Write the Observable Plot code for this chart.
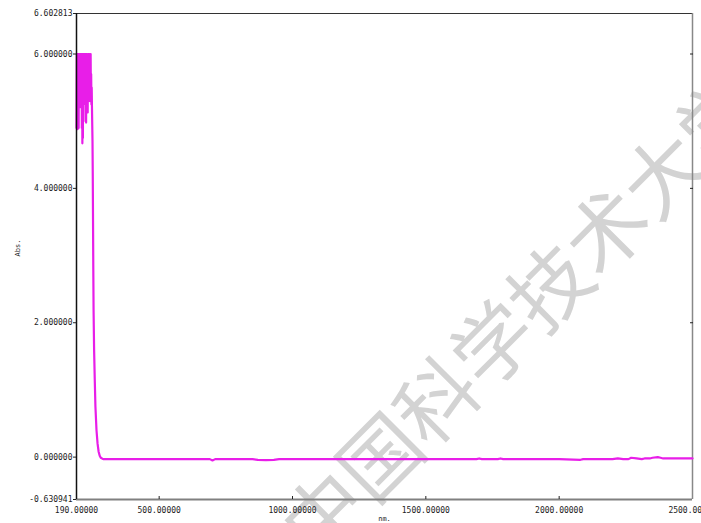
<!DOCTYPE html>
<html>
<head>
<meta charset="utf-8">
<script src="https://cdn.jsdelivr.net/npm/d3@7"></script>
<script src="https://cdn.jsdelivr.net/npm/@observablehq/plot@0.6"></script>
<style>
  html, body { margin: 0; padding: 0; background: #fff; }
  #wrap { position: relative; width: 701px; height: 523px; overflow: hidden; }
  #wm { position: absolute; left: 518px; top: 312px; transform: translate(-50%, -50%) rotate(-45deg);
        font-family: "Noto Sans CJK SC"; font-size: 80px; color: #d3d3d3; white-space: nowrap; z-index: 0; }
  #chart { position: absolute; left: 0; top: 0; z-index: 1; }
</style>
</head>
<body>
<div id="wrap"><div id="wm">中国科学技术大学</div><div id="chart"></div></div>
<script>
const xTicks = [190, 500, 1000, 1500, 2000, 2500];
const xTickLabels = ["190.00000", "500.00000", "1000.00000", "1500.00000", "2000.00000", "2500.00000"];
const yTicks = [-0.630941, 0, 2, 4, 6, 6.602813];
const yTickLabels = ["-0.630941", "0.000000", "2.000000", "4.000000", "6.000000", "6.602813"];
const xLabel = "nm.";
const yLabel = "Abs.";

const wavelength = [
  190,191,192,193,194,195,196,197,198,199,200,201,202,203,204,205,206,207,208,209,
  210,211,212,213,214,215,216,217,218,219,220,221,222,223,224,225,226,227,228,229,
  230,231,232,233,234,235,236,237,238,239,240,241,242,243,244,245,246,247,248,
  250,251,252,253,254,256,258.5,261,265,269,273,277,281,290,
  350,400,450,500,550,600,650,690,700,710,750,800,850,870,900,930,950,1000,
  1100,1200,1300,1400,1500,1600,1690,1700,1710,1770,1780,1790,1900,2000,2080,2090,
  2150,2200,2220,2240,2260,2270,2290,2310,2320,2340,2350,2370,2380,2390,2400,2450,2500
];
const absorbance = [
  4.90,6.00,4.95,6.00,4.88,6.00,5.00,6.00,4.90,6.00,5.20,6.00,5.35,6.00,5.30,6.00,5.40,6.00,5.20,6.00,
  4.90,6.00,4.67,6.00,4.75,6.00,5.30,6.00,5.40,6.00,5.30,6.00,5.25,6.00,5.00,6.00,4.98,6.00,5.30,6.00,
  5.20,5.90,5.13,6.00,5.30,6.00,5.40,5.95,5.30,6.00,5.35,5.90,5.30,6.00,5.30,5.70,5.25,5.50,5.20,
  4.70,4.20,3.50,2.80,2.20,1.60,1.15,0.75,0.40,0.20,0.08,0.02,-0.01,-0.03,
  -0.03,-0.03,-0.03,-0.03,-0.03,-0.03,-0.03,-0.03,-0.05,-0.03,-0.03,-0.03,-0.03,-0.04,-0.045,-0.04,-0.03,-0.03,
  -0.03,-0.03,-0.03,-0.03,-0.03,-0.03,-0.03,-0.02,-0.03,-0.03,-0.02,-0.03,-0.03,-0.03,-0.04,-0.03,
  -0.03,-0.03,-0.02,-0.03,-0.03,-0.01,-0.02,-0.03,-0.02,-0.02,-0.01,0.00,-0.01,-0.02,-0.02,-0.02,-0.02
];

const data = wavelength.map((w, i) => ({w, a: absorbance[i]}));
const xMin = xTicks[0], xMax = xTicks[xTicks.length - 1];
const yMin = yTicks[0], yMax = yTicks[yTicks.length - 1];
const font = {fontFamily: "DejaVu Sans Mono", fontSize: 8};

const chart = Plot.plot({
  width: 701,
  height: 523,
  marginLeft: 76,
  marginRight: 9,
  marginTop: 13,
  marginBottom: 24,
  style: {background: "transparent", color: "#222", fontFamily: "DejaVu Sans Mono", fontSize: "8px"},
  x: {domain: [xMin, xMax]},
  y: {domain: [yMin, yMax]},
  marks: [
    Plot.ruleY([yMax], {stroke: "#333", strokeWidth: 1}),
    Plot.ruleX([xMax], {stroke: "#888", strokeWidth: 1.5}),
    Plot.line(data, {x: "w", y: "a", stroke: "#e81ee8", strokeWidth: 2.2}),
    Plot.ruleY([yMin], {stroke: "#808080", strokeWidth: 2}),
    Plot.ruleX([xMin], {stroke: "#111", strokeWidth: 1.5}),
    Plot.axisY({anchor: "left", ticks: yTicks, tickFormat: d => yTickLabels[yTicks.indexOf(d)],
                tickSize: 3, tickPadding: 1, label: null, ...font}),
    Plot.axisY({anchor: "right", ticks: yTicks.slice(2, 5), tickFormat: () => "",
                tickSize: -3, label: null}),
    Plot.axisX({anchor: "bottom", ticks: xTicks.slice(1, 5), tickFormat: () => "",
                tickSize: -3, label: null}),
    Plot.axisX({anchor: "bottom", ticks: xTicks, tickFormat: d => xTickLabels[xTicks.indexOf(d)],
                tickSize: 0, tickPadding: 8, label: null, ...font}),
    Plot.text([xLabel], {frameAnchor: "bottom", dy: 21, text: d => d, fontSize: 7, fontFamily: "DejaVu Sans Mono"}),
    Plot.text([yLabel], {frameAnchor: "left", dx: -59, rotate: -90, text: d => d, fontSize: 7, fontFamily: "DejaVu Sans Mono"})
  ]
});
document.getElementById("chart").appendChild(chart);
</script>
</body>
</html>
